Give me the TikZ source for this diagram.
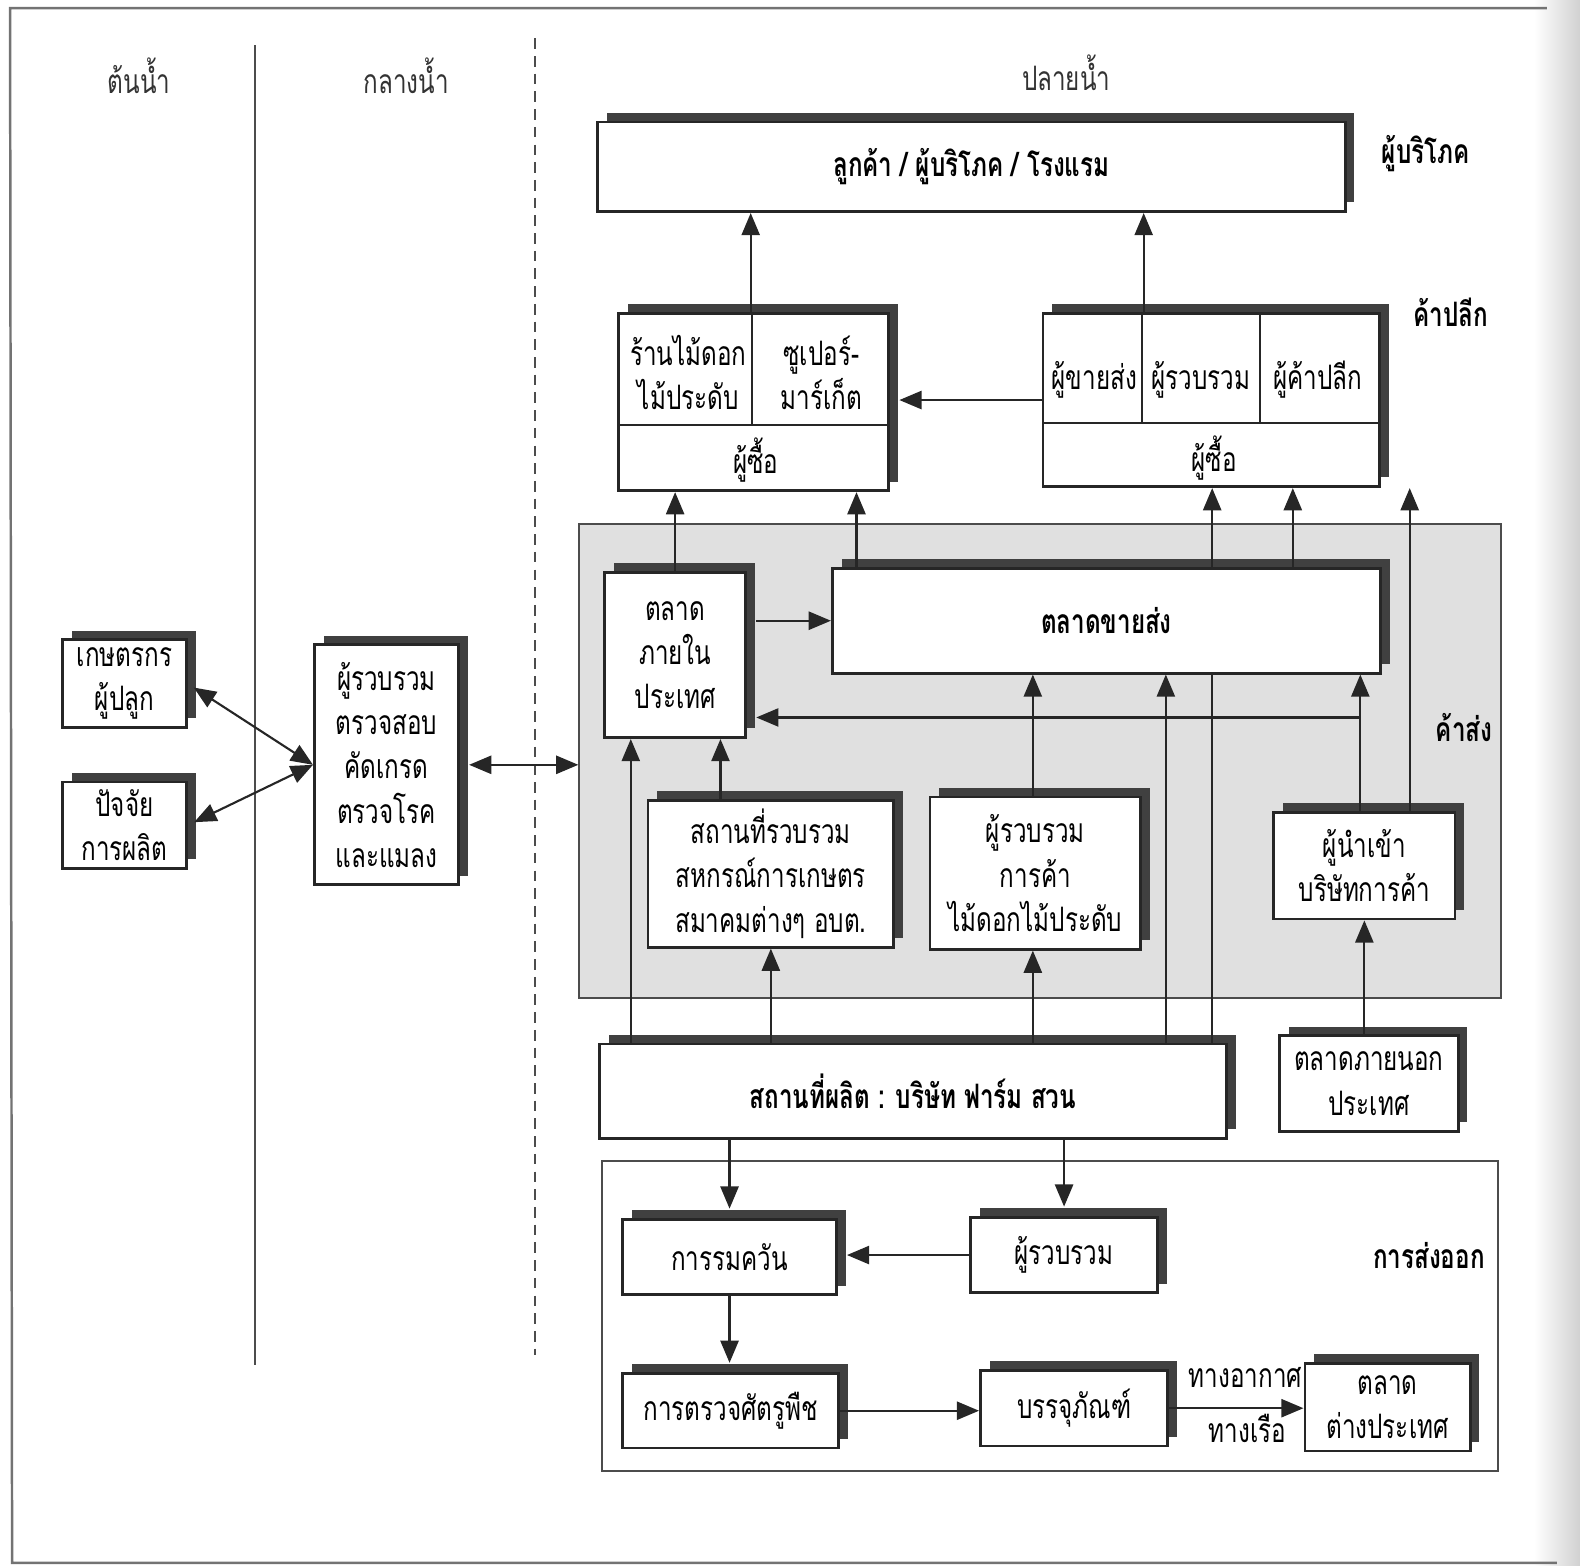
\documentclass[tikz,border=0pt]{standalone}
\usepackage{fontspec}
\usepackage{tikz}
\usetikzlibrary{arrows.meta,shadows}
\newfontfamily\thai[Script=Thai,FakeStretch=0.72]{Loma}

\begin{document}
\begin{tikzpicture}[x=0.1mm, y=-0.1mm,
  every node/.style={font=\thai\fontsize{9.5}{12.5}\selectfont, align=center, inner sep=0pt},
  sz/.style 2 args={minimum width=#1*0.1mm, minimum height=#2*0.1mm},
  box/.style={rectangle, draw=black!85, line width=0.8pt, fill=white,
    general shadow={fill=black!75, shadow xshift=2.6pt, shadow yshift=2.6pt}},
  zone/.style={rectangle, draw=black!70, line width=0.6pt},
  side/.style={font=\thai\bfseries\fontsize{9.5}{12.5}\selectfont},
  link/.style={draw=black!85, line width=0.6pt},
  arr/.style={link, -{Triangle[length=2.2mm, width=1.8mm]}},
  arrs/.style={link, {Triangle[length=2.2mm, width=1.8mm]}-{Triangle[length=2.2mm, width=1.8mm]}}]
  \useasboundingbox (0,0) rectangle (1568,1554);

  % page edge
  \shade[left color=white, right color=black!18] (1522,0) rectangle (1568,1554);
  \draw[black!55, line width=0.7pt] (1535,8) -- (10,8) -- (12,1551) -- (1545,1551);

  % column heads
  \node[black!80] (upst) at (138,75) {ต้นน้ำ};
  \node[black!80] (midst) at (403,75) {กลางน้ำ};
  \node[black!80] (downst) at (1058,72) {ปลายน้ำ};
  \draw[black!70, line width=0.6pt] (253,45) -- (253,1355);
  \draw[black!70, line width=0.6pt, densely dashed] (531,38) -- (531,1345);

  % zones
  \node[zone, fill=black!12, sz={915}{470}] (kasong) at (1032.5,755) {};
  \node[zone, sz={890}{308}] (export) at (1042,1306) {};

  % upstream / midstream
  \node[box, sz={123}{87}] (kaset) at (123.5,678.5) {เกษตรกร\\ผู้ปลูก};
  \node[box, sz={123}{86}] (input) at (123.5,819) {ปัจจัย\\การผลิต};
  \node[box, sz={143}{238}] (collect) at (383.5,759) {ผู้รวบรวม\\ตรวจสอบ\\คัดเกรด\\ตรวจโรค\\และแมลง};

  % consumer
  \node[box, sz={742}{89}, side] (cust) at (964,165.5) {ลูกค้า / ผู้บริโภค / โรงแรม};
  \node[side] (lbcons) at (1415,152) {ผู้บริโภค};

  % retail
  \node[box, sz={268}{176}] (retL) at (748,399) {};
  \draw[link] (614,422) -- (882,422) (746,311) -- (746,422);
  \node (florist) at (683,370) {ร้านไม้ดอก\\ไม้ประดับ};
  \node (super) at (815,370) {ซูเปอร์-\\มาร์เก็ต};
  \node (buyL) at (750,457) {ผู้ซื้อ};
  \node[box, sz={334}{172}] (retR) at (1202,397) {};
  \draw[link] (1035,420) -- (1369,420) (1133,311) -- (1133,420) (1250,311) -- (1250,420);
  \node (whole) at (1086,377) {ผู้ขายส่ง};
  \node (gath) at (1192,377) {ผู้รวบรวม};
  \node (retl) at (1308,377) {ผู้ค้าปลีก};
  \node (buyR) at (1205,455) {ผู้ซื้อ};
  \node[side] (lbret) at (1440,310) {ค้าปลีก};

  % wholesale
  \node[box, sz={140}{164}] (inland) at (670,650) {ตลาด\\ภายใน\\ประเทศ};
  \node[box, sz={544}{104}, side] (wsm) at (1098,616) {ตลาดขายส่ง};
  \node[box, sz={244}{146}] (gather) at (765,867) {สถานที่รวบรวม\\สหกรณ์การเกษตร\\สมาคมต่างๆ อบต.};
  \node[box, sz={209}{151}] (trader) at (1027.5,866.5) {ผู้รวบรวม\\การค้า\\ไม้ดอกไม้ประดับ};
  \node[box, sz={180}{106}] (imp) at (1354,859) {ผู้นำเข้า\\บริษัทการค้า};
  \node[side] (lbws) at (1453,722) {ค้าส่ง};

  % production
  \node[box, sz={622}{94}, side] (prod) at (906,1083) {สถานที่ผลิต : บริษัท ฟาร์ม สวน};
  \node[box, sz={177}{95}] (outm) at (1358.5,1075.5) {ตลาดภายนอก\\ประเทศ};

  % export
  \node[box, sz={212}{75}] (smoke) at (724,1247.5) {การรมควัน};
  \node[box, sz={186}{75}] (coll2) at (1056,1245.5) {ผู้รวบรวม};
  \node[box, sz={214}{74}] (pest) at (725,1400) {การตรวจศัตรูพืช};
  \node[box, sz={186}{75}] (pack) at (1066,1397.5) {บรรจุภัณฑ์};
  \node[box, sz={164}{87}] (abroad) at (1377,1396.5) {ตลาด\\ต่างประเทศ};
  \node (air) at (1236,1367) {ทางอากาศ};
  \node (sea) at (1238,1418) {ทางเรือ};
  \node[side] (lbexp) at (1418,1246) {การส่งออก};

  % lanes
  \coordinate (xa) at (626,0);
  \coordinate (xb) at (670,0);
  \coordinate (xc) at (715,0);
  \coordinate (xd) at (765,0);
  \coordinate (xm) at (745,0);
  \coordinate (xe) at (850,0);
  \coordinate (xf) at (1025,0);
  \coordinate (xl) at (1135,0);
  \coordinate (xg) at (1157,0);
  \coordinate (xh) at (1203,0);
  \coordinate (xi) at (1283,0);
  \coordinate (xj) at (1350,0);
  \coordinate (xk) at (1399,0);
  \coordinate (yb) at (0,712);

  % links
  \draw[arrs, shorten <=2pt] (kaset.east) -- (collect.west);
  \draw[arrs, shorten <=2pt] (input.east) -- (collect.west);
  \draw[arrs, shorten <=2.6pt] (collect.east) -- (collect.east -| kasong.west);
  \draw[arr] (retL.north -| xm) -- (cust.south -| xm);
  \draw[arr] (retR.north -| xl) -- (cust.south -| xl);
  \draw[arr, shorten >=2.6pt] (retR.west) -- (retR.west -| retL.east);
  \draw[arr] (inland.north -| xb) -- (retL.south -| xb);
  \draw[arr] (wsm.north -| xe) -- (retL.south -| xe);
  \draw[arr] (wsm.north -| xi) -- (retR.south -| xi);
  \draw[arr] (wsm.west -| inland.east) ++(2.6pt,0) -- (wsm.west);
  \draw[arr] (gather.north -| xc) -- (inland.south -| xc);
  \draw[arr] (trader.north -| xf) -- (wsm.south -| xf);
  \draw[arr] (imp.north -| xj) -- (wsm.south -| xj);
  \draw[arr, shorten >=2.6pt] (xj |- yb) -- (yb -| inland.east);
  \draw[arr] (imp.north -| xk) -- (retR.south -| xk);
  \draw[arr] (outm.north -| imp.south) -- (imp.south);
  \draw[arr] (prod.north -| xa) -- (inland.south -| xa);
  \draw[arr] (prod.north -| xd) -- (gather.south -| xd);
  \draw[arr] (prod.north -| xf) -- (trader.south -| xf);
  \draw[arr] (prod.north -| xg) -- (wsm.south -| xg);
  \draw[link] (prod.north -| xh) -- (wsm.south -| xh);
  \draw[arr] (wsm.north -| xh) -- (retR.south -| xh);
  \draw[arr, shorten >=2.6pt] (prod.south -| smoke.north) -- (smoke.north);
  \draw[arr, shorten >=2.6pt] (prod.south -| coll2.north) -- (coll2.north);
  \draw[arr, shorten >=2.6pt] (coll2.west) -- (coll2.west -| smoke.east);
  \draw[arr, shorten >=2.6pt] (smoke.south) -- (smoke.south |- pest.north);
  \draw[arr] (pest.east) -- (pest.east -| pack.west);
  \draw[arr] (pack.east) -- (pack.east -| abroad.west);
\end{tikzpicture}
\end{document}
